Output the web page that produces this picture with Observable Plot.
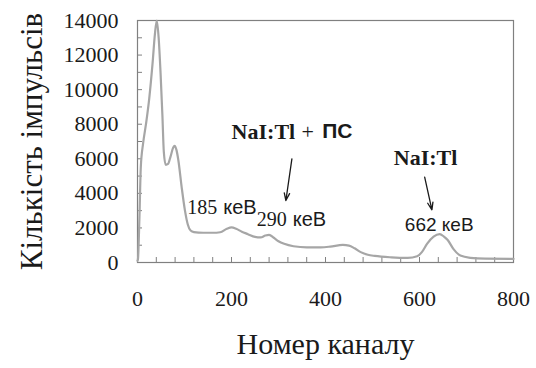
<!DOCTYPE html>
<html>
<head>
<meta charset="utf-8">
<script src="https://cdn.jsdelivr.net/npm/d3@7"></script>
<script src="https://cdn.jsdelivr.net/npm/@observablehq/plot@0.6"></script>
<style>
  html, body { margin: 0; padding: 0; background: #fff; }
</style>
</head>
<body>
<div id="chart"></div>
<script>
// Gamma spectrum: channel number vs. pulse count
const channels = [0, 1, 4, 7, 12, 18, 25, 32, 37, 41, 45, 49, 53, 56, 60, 65, 70, 76, 79, 83, 87, 94, 101, 107, 113, 120, 140, 160, 176, 190, 200, 210, 222, 235, 250, 262, 272, 280, 290, 300, 312, 332, 360, 390, 410, 437, 450, 462, 475, 490, 505, 540, 575, 595, 605, 616, 630, 643, 652, 660, 672, 687, 708, 740, 800];
const counts   = [100, 200, 2500, 5500, 6900, 8000, 9500, 11500, 13200, 14000, 13000, 11000, 8500, 6400, 5650, 5700, 6100, 6650, 6750, 6500, 5900, 4350, 3000, 2200, 1850, 1760, 1720, 1720, 1750, 1950, 2030, 1950, 1780, 1640, 1480, 1450, 1560, 1600, 1430, 1230, 1080, 940, 880, 880, 920, 1020, 980, 820, 600, 450, 380, 300, 270, 360, 600, 1080, 1500, 1640, 1500, 1300, 790, 400, 270, 220, 210];

// Axis ticks
const xTicks = [0, 200, 400, 600, 800];
const yTicks = [0, 2000, 4000, 6000, 8000, 10000, 12000, 14000];
const xMinor = d3.range(0, 801, 40);
const yMinor = d3.range(0, 14001, 1000);

// Peak energy labels: number, unit, split position (channel), height (counts)
const peakNumbers = ["185", "290"];
const peakUnits = ["кеВ", "кеВ"];
const peakX = [178, 326];
const peakY = [3204, 2510];

const csLabel = ["662 кеВ"];
const csX = [642];
const csY = [2163];

// Detector labels
const detLabelA = ["NaI:Tl"]; const detAX = [335.5]; const detAY = [7577];
const detPlus = ["+"];        const detPX = [362];   const detPY = [7577];
const detLabelB = ["ПС"];     const detBX = [393];   const detBY = [7577];
const detLabelC = ["NaI:Tl"]; const detCX = [613];   const detCY = [6073];

// Arrows from detector labels down to peaks
const arrowX1 = [328.5, 611];
const arrowY1 = [6000, 4934];
const arrowX2 = [315.7, 626.4];
const arrowY2 = [3586, 3047];

const serif = "'Liberation Serif', 'Times New Roman', 'DejaVu Serif', serif";
const sans = "'Liberation Sans', Arial, sans-serif";
const ink = "#1a1a1a";
const tickFont = { fontFamily: serif, fontSize: 22, fill: ink };

const chart = Plot.plot({
  width: 536,
  height: 368,
  marginLeft: 137,
  marginRight: 23,
  marginTop: 20,
  marginBottom: 106,
  style: `font-family: ${serif}; font-size: 22px; color: ${ink}; background: #fff; overflow: visible;`,
  x: { domain: [0, 800] },
  y: { domain: [0, 14000] },
  marks: [
    Plot.axisX(xMinor, { tickSize: -5, tickFormat: () => "", stroke: "#808080", label: null }),
    Plot.axisX(xTicks, { tickSize: 0, tickPadding: 28, tickFormat: d3.format("d"), label: null, ...tickFont }),
    Plot.axisY(yMinor, { tickSize: -5, tickFormat: () => "", stroke: "#808080", label: null }),
    Plot.axisY(yTicks, { tickSize: 0, tickPadding: 19, tickFormat: d3.format("d"), label: null, ...tickFont }),
    Plot.frame({ stroke: "#808080", strokeWidth: 1.2 }),
    Plot.line(counts, { x: channels, y: counts, stroke: "#a6a6a6", strokeWidth: 2.2, curve: "monotone-x" }),
    // peak energies
    Plot.text(peakNumbers, { x: peakX, y: peakY, text: peakNumbers, textAnchor: "end", dx: -4, fontFamily: serif, fontSize: 20, fill: ink }),
    Plot.text(peakUnits, { x: peakX, y: peakY, text: peakUnits, textAnchor: "start", dx: 2, fontFamily: sans, fontSize: 20, fill: ink }),
    Plot.text(csLabel, { x: csX, y: csY, text: csLabel, fontFamily: sans, fontSize: 19, fill: ink }),
    // detector labels
    Plot.text(detLabelA, { x: detAX, y: detAY, text: detLabelA, textAnchor: "end", fontFamily: serif, fontWeight: "bold", fontSize: 22, fill: ink }),
    Plot.text(detPlus, { x: detPX, y: detPY, text: detPlus, fontFamily: serif, fontSize: 22, fill: ink }),
    Plot.text(detLabelB, { x: detBX, y: detBY, text: detLabelB, textAnchor: "start", fontFamily: sans, fontWeight: "bold", fontSize: 21, fill: ink }),
    Plot.text(detLabelC, { x: detCX, y: detCY, text: detLabelC, fontFamily: serif, fontWeight: "bold", fontSize: 22, fill: ink }),
    Plot.arrow(arrowX1, { x1: arrowX1, y1: arrowY1, x2: arrowX2, y2: arrowY2, stroke: ink, strokeWidth: 1.3, headLength: 9, headAngle: 40 }),
    // axis titles
    Plot.text(["Номер каналу"], { frameAnchor: "bottom", textAnchor: "middle", lineAnchor: "middle", dy: 81.4, fontFamily: serif, fontSize: 30, fill: ink }),
    Plot.text(["Кількість імпульсів"], { frameAnchor: "left", textAnchor: "middle", lineAnchor: "middle", rotate: -90, dx: -105, fontFamily: serif, fontSize: 31, fill: ink })
  ]
});

document.getElementById("chart").appendChild(chart);
</script>
</body>
</html>
